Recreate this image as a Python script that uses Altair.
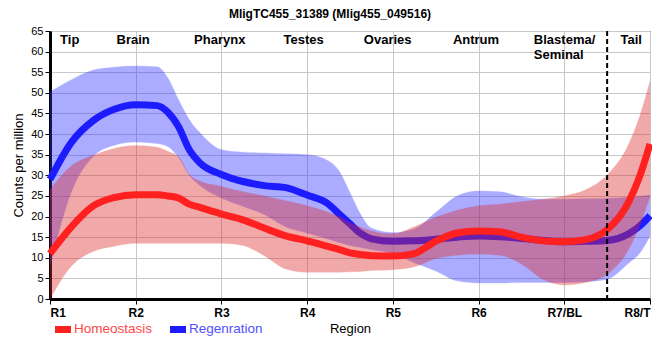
import altair as alt
import pandas as pd

# ---- data ----
positions = [1.0, 1.25, 1.5, 1.75, 2.0, 2.25, 2.375, 2.5, 2.625, 2.75, 3.0, 3.25, 3.5, 3.75, 4.0,
             4.25, 4.375, 4.5, 4.625, 4.75, 5.0, 5.25, 5.5, 5.75, 6.0, 6.25, 6.5, 6.75, 7.0,
             7.25, 7.5, 7.75, 7.875, 8.0]
region_ticks = ["R1", "R2", "R3", "R4", "R5", "R6", "R7/BL", "R8/T"]

homeo_mean = [11.0, 17.5, 22.5, 24.6, 25.3, 25.3, 25.0, 24.5, 23.0, 22.2, 20.6, 19.2, 17.2, 15.3, 14.1,
              12.7, 12.0, 11.2, 10.8, 10.5, 10.4, 11.0, 14.0, 16.0, 16.5, 16.3, 15.0, 14.1, 13.9,
              14.4, 16.8, 23.5, 29.5, 37.6]
homeo_hi = [26.5, 32.3, 34.8, 36.5, 37.2, 36.8, 35.8, 34.5, 30.2, 28.6, 27.3, 26.0, 25.0, 23.8, 22.6,
            21.0, 20.0, 18.5, 17.4, 16.5, 15.8, 17.5, 19.8, 21.5, 22.6, 23.0, 23.6, 24.2, 25.0,
            26.5, 30.1, 37.5, 44.0, 52.8]
homeo_lo = [0.0, 8.0, 11.5, 12.8, 13.5, 13.5, 13.5, 13.5, 13.5, 13.5, 13.5, 13.0, 10.5, 7.3, 6.5,
            6.5, 6.5, 6.6, 6.7, 6.9, 7.1, 7.8, 9.8, 10.6, 10.9, 10.6, 8.5, 4.8, 3.4,
            4.0, 6.0, 12.0, 17.5, 25.0]
regen_mean = [29.0, 38.0, 43.2, 46.0, 47.1, 46.9, 45.3, 41.8, 36.2, 33.0, 30.2, 28.5, 27.5, 27.0, 25.2,
              23.0, 20.6, 18.2, 15.9, 14.6, 14.0, 14.1, 14.5, 15.0, 15.3, 15.1, 14.7, 14.2, 13.9,
              14.0, 14.2, 15.8, 17.6, 20.2]
regen_hi = [50.2, 53.2, 55.5, 56.2, 56.5, 56.3, 53.6, 48.3, 43.5, 40.3, 36.2, 35.6, 35.4, 35.2, 35.0,
            33.5, 31.0, 25.8, 20.5, 17.2, 16.1, 17.0, 21.0, 25.0, 26.2, 26.0, 24.8, 24.2, 24.2,
            24.3, 24.4, 24.7, 24.9, 25.2]
regen_lo = [8.0, 26.0, 34.5, 37.3, 38.1, 37.7, 37.0, 34.3, 30.0, 27.5, 24.5, 22.5, 20.5, 17.5, 16.0,
            14.5, 13.7, 13.0, 12.5, 12.0, 11.0, 8.8, 6.8, 4.4, 3.9, 3.9, 4.0, 4.0, 4.0,
            4.2, 4.8, 8.7, 11.0, 15.2]

series_names = ["Homeostasis", "Regenration"]
section_names = ["Tip", "Brain", "Pharynx", "Testes", "Ovaries", "Antrum", "Tail"]
section_pos = [1.23, 1.97, 2.98, 3.96, 4.94, 5.97, 7.78]
blastema_name = ["Blastema/\nSeminal"]
blastema_pos = [6.645]
label_level = 62.8
divider_pos = [7.5]

FONT = "Liberation Sans"
RED_BAND, RED_LINE, RED_TXT = "#de2828", "#ff2020", "#ff4848"
BLUE_BAND, BLUE_LINE, BLUE_TXT = "#3030ff", "#1c1cff", "#5050ff"

homeo = pd.DataFrame({"pos": positions, "val": homeo_mean, "lo": homeo_lo, "hi": homeo_hi})
regen = pd.DataFrame({"pos": positions, "val": regen_mean, "lo": regen_lo, "hi": regen_hi})
sections = pd.DataFrame({"pos": section_pos, "val": [label_level] * len(section_pos), "label": section_names})
blastema = pd.DataFrame({"pos": blastema_pos, "val": [label_level], "label": blastema_name})
divider = pd.DataFrame({"pos": divider_pos})

label_expr = "[" + ",".join("'%s'" % t for t in region_ticks) + "][datum.value - 1]"
x_axis = alt.Axis(values=list(range(1, 9)), labelExpr=label_expr, title="Region",
                  labelFontWeight="bold", labelFontSize=12, labelPadding=3, titlePadding=4,
                  titleFontSize=13, titleFontWeight="normal")
y_axis = alt.Axis(values=list(range(0, 70, 5)), title="Counts per million",
                  labelFontSize=11, labelPadding=2, titlePadding=5,
                  titleFontSize=13, titleFontWeight="normal")
xs = alt.Scale(domain=[1, 8], nice=False, zero=False)
ys = alt.Scale(domain=[0, 65], nice=False)

X = alt.X("pos:Q", scale=xs, axis=x_axis)
Y = lambda f: alt.Y(f + ":Q", scale=ys, axis=y_axis)


def band(df, color):
    return alt.Chart(df).mark_area(interpolate="monotone", color=color, opacity=0.4,
                                   stroke=color, strokeWidth=1, strokeOpacity=0.35).encode(
        x=X, y=Y("lo"), y2="hi")


def line(df, color):
    return alt.Chart(df).mark_line(interpolate="monotone", color=color, strokeWidth=7).encode(
        x=X, y=Y("val"))


sec_text = alt.Chart(sections).mark_text(font=FONT, fontSize=13, fontWeight="bold", color="black",
                                         align="center", baseline="middle").encode(
    x=X, y=Y("val"), text="label:N")
bl_text = alt.Chart(blastema).mark_text(font=FONT, fontSize=13, fontWeight="bold", color="black",
                                        align="left", baseline="middle", lineBreak="\n",
                                        lineHeight=15).encode(
    x=X, y=Y("val"), text="label:N")
rule = alt.Chart(divider).mark_rule(color="black", strokeWidth=2, strokeDash=[5, 3]).encode(x=X)

leg_df = [pd.DataFrame({"name": [n]}) for n in series_names]
leg_red_sym = alt.Chart(leg_df[0]).mark_rect(color=RED_LINE).encode(
    x=alt.value(5), x2=alt.value(21), y=alt.value(295), y2=alt.value(302))
leg_red_txt = alt.Chart(leg_df[0]).mark_text(font=FONT, fontSize=13.5, color=RED_TXT, align="left",
                                             baseline="middle").encode(
    x=alt.value(24), y=alt.value(298), text="name:N")
leg_blue_sym = alt.Chart(leg_df[1]).mark_rect(color=BLUE_LINE).encode(
    x=alt.value(120), x2=alt.value(136), y=alt.value(295), y2=alt.value(302))
leg_blue_txt = alt.Chart(leg_df[1]).mark_text(font=FONT, fontSize=13.5, color=BLUE_TXT, align="left",
                                              baseline="middle").encode(
    x=alt.value(139), y=alt.value(298), text="name:N")

chart = alt.layer(
    band(regen, BLUE_BAND), line(regen, BLUE_LINE),
    band(homeo, RED_BAND), line(homeo, RED_LINE),
    rule, sec_text, bl_text,
    leg_red_sym, leg_red_txt, leg_blue_sym, leg_blue_txt,
).properties(
    width=600, height=268,
    title=alt.TitleParams("MligTC455_31389 (Mlig455_049516)", font=FONT, fontSize=12,
                          fontWeight="bold", anchor="middle", dx=-20, offset=4),
    autosize=alt.AutoSizeParams(type="none"),
    padding={"left": 42, "top": 23, "right": 2, "bottom": 45},
).configure_view(
    stroke="black", strokeWidth=1
).configure_axis(
    labelFont=FONT, titleFont=FONT, labelColor="black", titleColor="black",
    gridColor="#c8c8c8", gridWidth=1, domainColor="black", domainWidth=3,
    tickColor="black", tickSize=5, tickWidth=1,
)

chart.save("out.html", embed_options={"renderer": "svg", "actions": False})
